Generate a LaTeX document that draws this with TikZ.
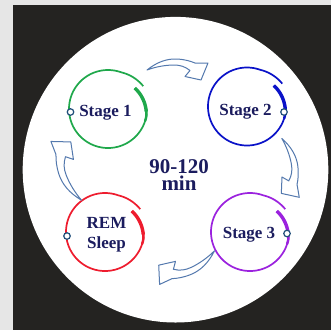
\documentclass[tikz,border=0pt]{standalone}
\usepackage{fontspec}
\setmainfont{Liberation Serif}
\definecolor{bggray}{HTML}{E6E6E6}
\definecolor{darkbg}{HTML}{242321}
\definecolor{navy}{HTML}{1B1C5E}
\definecolor{ringgreen}{HTML}{1FA84B}
\definecolor{ringblue}{HTML}{0A12C8}
\definecolor{ringpurple}{HTML}{9B22DE}
\definecolor{ringred}{HTML}{EE1C2E}
\definecolor{markc}{HTML}{1F4E79}
\definecolor{swooshc}{HTML}{5479AE}
\newcommand{\sleepring}[3]{%
  \begin{scope}[shift={(#1,#2)}]
    \draw[#3, line width=1.7pt] plot[domain=38:-327,samples=160]
      ({ringr(\x)*cos(\x)},{-ringr(\x)*sin(\x)});
    \draw[#3, line width=3.4pt] plot[domain=38:-4,samples=30]
      ({ringr(\x)*cos(\x)},{-ringr(\x)*sin(\x)});
    \draw[#3, line width=2.4pt] plot[domain=-2:-18,samples=12]
      ({ringr(\x)*cos(\x)},{-ringr(\x)*sin(\x)});
  \end{scope}}
\newcommand{\swoosh}[4]{%
  \begin{scope}[shift={(#1,#2)}, rotate=#3, scale=#4]
    \draw[swooshline] (-30,0) .. controls (-20,-8) and (-10,-11.5) .. (0,-11)
      .. controls (8,-10.5) and (13,-9) .. (18,-7) -- (31,-7) -- (24,10) -- (8,6.5) -- (13,0.5)
      .. controls (8,-3.5) and (3,-5) .. (-3,-5)
      .. controls (-12,-5) and (-22,-3) .. (-30,0) -- cycle;
  \end{scope}}
\begin{document}
\begin{tikzpicture}[x=1pt,y=-1pt,
  declare function={ringr(\t)=39-5*max(0,(\t+10)/48)+3*max(0,(-290-\t)/37);},
  swooshline/.style={draw=swooshc, fill=white, line width=1pt, line join=round},
  marker/.style={circle, draw=markc, fill=white, line width=1.2pt, inner sep=0pt, minimum size=6.5pt},
  stagetxt/.style={text=navy, font=\fontsize{17}{20}\selectfont\bfseries, inner sep=0pt, anchor=base},
  bigtxt/.style={text=navy, font=\fontsize{21}{17}\selectfont\bfseries, inner sep=0pt, align=center}]
\useasboundingbox (0,0) rectangle (331,330);
\fill[bggray] (0,0) rectangle (331,330);
\fill[darkbg] (13,5) rectangle (331,330);
\fill[white] (175.5,169.7) circle[radius=152.8];
% rings
\sleepring{108}{109}{ringgreen}
\sleepring{247}{106.5}{ringblue}
\sleepring{250}{232}{ringpurple}
\sleepring{105}{232}{ringred}
% arrows
\swoosh{177}{70}{0}{1}
\swoosh{287}{168}{-80}{1}
\swoosh{186}{264}{-155}{1.05}
\swoosh{70}{170}{-249}{1.08}
% markers
\node[marker] (m1) at (70.5,112) {};
\node[marker] (m2) at (284,112) {};
\node[marker] (m3) at (287,233.5) {};
\node[marker] (m4) at (67,236) {};
% labels
\node[stagetxt] (s1) at (105.5,116) {Stage 1};
\node[stagetxt] (s2) at (245.5,115) {Stage 2};
\node[stagetxt] (s3) at (249,238) {Stage 3};
\node[stagetxt] (rem) at (106.5,228) {REM};
\node[stagetxt] (sleep) at (106.5,248) {Sleep};
\node[bigtxt] (dur) at (179,175) {90-120\\min};
\end{tikzpicture}
\end{document}
